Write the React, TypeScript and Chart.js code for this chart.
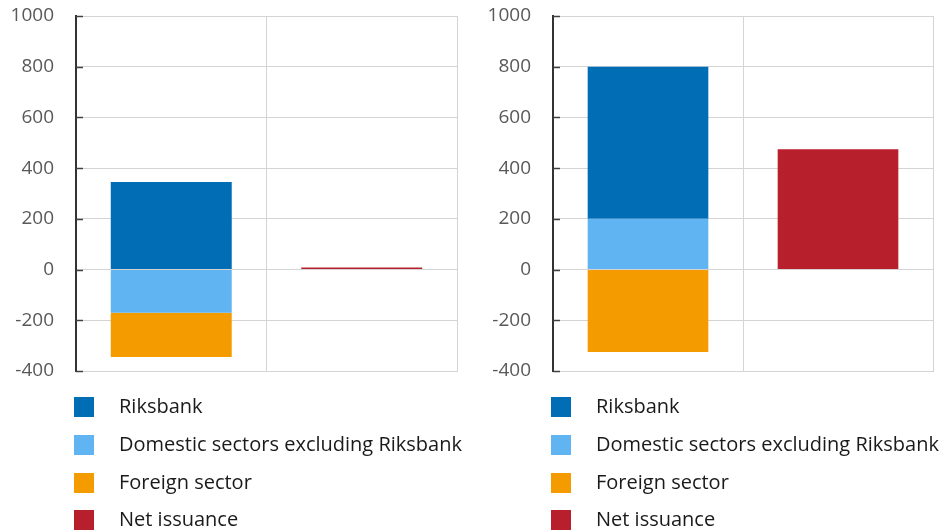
import React, { useEffect, useRef } from 'react';
import { Chart, registerables } from 'chart.js';

Chart.register(...registerables);

const categories = ['Holders', 'Issuance'];
const seriesNames = ['Riksbank', 'Domestic sectors excluding Riksbank', 'Foreign sector', 'Net issuance'];
const seriesColors = ['#006DB5', '#5FB4F1', '#F49B00', '#B81F2D'];
const stackOrder = [1, 0, 2, 3];

const leftRiksbank = [345, null];
const leftDomestic = [-170, null];
const leftForeign = [-175, null];
const leftNetIssuance = [null, 8];

const rightRiksbank = [600, null];
const rightDomestic = [200, null];
const rightForeign = [-325, null];
const rightNetIssuance = [null, 475];

const yTicks = [-400, -200, 0, 200, 400, 600, 800, 1000];

const FONT = '"Open Sans", "DejaVu Sans", sans-serif';

type PanelProps = {
  series: (number | null)[][];
  left: number;
  axisLeft: number;
  plotRight: number;
  legendBoxX: number;
  legendTextX: number;
};

const CW = 473;
const CH = 530;

function Panel({ series, left, axisLeft, plotRight, legendBoxX, legendTextX }: PanelProps) {
  const ref = useRef<HTMLCanvasElement | null>(null);
  useEffect(() => {
    if (!ref.current) return;
    const innerTicks = {
      id: 'innerTicks',
      afterDraw(chart: any) {
        const { ctx } = chart;
        const y = chart.scales.y;
        const x0 = chart.chartArea.left;
        ctx.save();
        ctx.strokeStyle = '#404040';
        ctx.lineWidth = 1.5;
        y.ticks.forEach((t: any) => {
          const py = Math.round(y.getPixelForValue(t.value)) + 0.5;
          ctx.beginPath();
          ctx.moveTo(x0, py);
          ctx.lineTo(x0 + 7, py);
          ctx.stroke();
        });
        ctx.restore();
      },
    };
    const legendPlugin = {
      id: 'listLegend',
      afterDraw(chart: any) {
        const { ctx } = chart;
        ctx.save();
        ctx.font = `20px ${FONT}`;
        ctx.textBaseline = 'middle';
        ctx.textAlign = 'left';
        const rows = [407, 445, 483, 520];
        chart.data.datasets.forEach((ds: any, i: number) => {
          const cy = rows[i];
          ctx.fillStyle = ds.backgroundColor;
          ctx.fillRect(legendBoxX, cy - 10, 20, 20);
          ctx.fillStyle = '#1a1a1a';
          ctx.fillText(ds.label, legendTextX, cy);
        });
        ctx.restore();
      },
    };
    const chart = new Chart(ref.current, {
      type: 'bar',
      data: {
        labels: categories,
        datasets: seriesNames.map((name, i) => ({
          label: name,
          data: series[i],
          backgroundColor: seriesColors[i],
          borderWidth: 0,
          order: stackOrder[i],
          barPercentage: 0.635,
          categoryPercentage: 1,
        })),
      },
      options: {
        animation: false,
        responsive: false,
        maintainAspectRatio: false,
        layout: { padding: { top: 16, right: CW - plotRight, bottom: CH - 371, left: 0 } },
        plugins: { legend: { display: false }, tooltip: { enabled: false } },
        scales: {
          x: {
            stacked: true,
            ticks: { display: false },
            grid: { color: '#d4d4d4', lineWidth: 1, drawTicks: false, offset: true },
            border: { display: true, color: '#d4d4d4' },
            afterFit: (s: any) => {
              s.height = 0;
            },
          },
          y: {
            stacked: true,
            min: -400,
            max: 1000,
            afterBuildTicks: (s: any) => {
              s.ticks = yTicks.map((v) => ({ value: v }));
            },
            ticks: {
              padding: 22,
              color: '#595959',
              font: { family: FONT, size: 19 },
              callback: (v: any) => String(v),
            },
            grid: { color: '#d4d4d4', lineWidth: 1, drawTicks: false },
            border: { display: true, color: '#333333', width: 2 },
            afterFit: (s: any) => {
              s.width = axisLeft;
              s.paddingTop = 0;
              s.paddingBottom = 0;
            },
          },
        },
      },
      plugins: [innerTicks, legendPlugin],
    } as any);
    return () => chart.destroy();
  }, []);
  return (
    <canvas
      ref={ref}
      width={CW}
      height={CH}
      style={{ position: 'absolute', left, top: 0, width: CW, height: CH }}
    />
  );
}

export default function App() {
  return (
    <div style={{ position: 'fixed', left: 0, top: 0, width: 946, height: 530, background: '#fff' }}>
      <Panel
        series={[leftRiksbank, leftDomestic, leftForeign, leftNetIssuance]}
        left={0}
        axisLeft={76}
        plotRight={457}
        legendBoxX={74}
        legendTextX={119}
      />
      <Panel
        series={[rightRiksbank, rightDomestic, rightForeign, rightNetIssuance]}
        left={473}
        axisLeft={80}
        plotRight={460}
        legendBoxX={78}
        legendTextX={123}
      />
    </div>
  );
}
